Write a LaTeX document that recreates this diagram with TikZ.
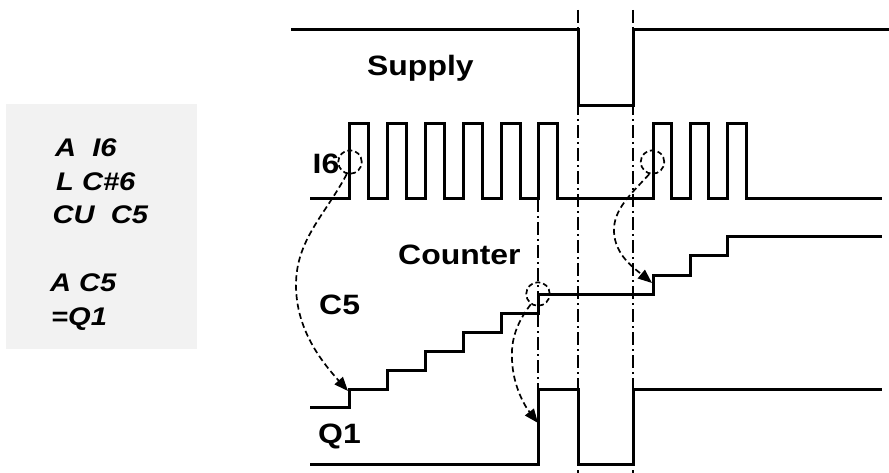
\documentclass[tikz,border=0pt]{standalone}
\usepackage{fontspec}
\setmainfont{Liberation Sans}
\newfontfamily\labfont[FakeStretch=1.14]{Liberation Sans}
\usetikzlibrary{arrows.meta}
\definecolor{boxgray}{HTML}{F2F2F2}
\begin{document}
\begin{tikzpicture}[x=1pt,y=-1pt,
  sig/.style={line width=3pt, line join=miter, line cap=rect},
  dashdot/.style={line width=1.4pt, dash pattern=on 13pt off 4pt on 2pt off 4pt},
  ring/.style={draw, circle, dashed, dash pattern=on 5pt off 3pt, line width=1.7pt, minimum size=23.5pt, inner sep=0pt},
  curvearrow/.style={line width=1.7pt, dash pattern=on 6pt off 3.5pt, -{Triangle[length=14pt,width=11pt]}},
  lab/.style={anchor=base west, inner sep=0pt, font=\labfont\fontsize{28}{28}\selectfont\bfseries},
  code/.style={anchor=base west, inner sep=0pt, font=\labfont\fontsize{25.5}{25.5}\selectfont\bfseries\itshape}
]
\useasboundingbox (0,0) rectangle (889,473);
% code box
\fill[boxgray] (6,104) rectangle (197,349);
\node[code] (l1) at (55,156.7) {A\ \ I6};
\node[code] (l2) at (56,190.5) {L C\#6};
\node[code] (l3) at (52.5,224) {CU\ \ C5};
\node[code] (l4) at (50,291.7) {A C5};
\node[code] (l5) at (51,325) {=Q1};
% dash-dot markers
\draw[dashdot] (578,10) -- (578,473);
\draw[dashdot] (633,10) -- (633,473);
\draw[dashdot] (538,199) -- (538,389);
% Supply
\draw[sig] (292,30) -- (578,30) -- (578,106) -- (633,106) -- (633,30) -- (889,30);
% I6
\draw[sig] (311,199)
  -- (349,199) -- (349,124) -- (368,124) -- (368,199)
  -- (387,199) -- (387,124) -- (406,124) -- (406,199)
  -- (425,199) -- (425,124) -- (444,124) -- (444,199)
  -- (463,199) -- (463,124) -- (482,124) -- (482,199)
  -- (501,199) -- (501,124) -- (520,124) -- (520,199)
  -- (538,199) -- (538,124) -- (557,124) -- (557,199)
  -- (653,199) -- (653,124) -- (671,124) -- (671,199)
  -- (690,199) -- (690,124) -- (708,124) -- (708,199)
  -- (727,199) -- (727,124) -- (746,124) -- (746,199)
  -- (880,199);
% C5
\draw[sig] (311,407) -- (349,407) -- (349,389) -- (387,389) -- (387,370)
  -- (425,370) -- (425,351) -- (463,351) -- (463,332) -- (501,332) -- (501,313)
  -- (538,313) -- (538,294) -- (653,294) -- (653,275) -- (690,275) -- (690,256)
  -- (727,256) -- (727,237) -- (880,237);
% Q1
\draw[sig] (311,464) -- (538,464) -- (538,389) -- (578,389) -- (578,464)
  -- (633,464) -- (633,389) -- (880,389);
% labels
\node[lab] (supply) at (367,76) {Supply};
\node[lab] (i6) at (312.5,174) {I6};
\node[lab] (counter) at (398,265) {Counter};
\node[lab] (c5) at (319,314) {C5};
\node[lab] (q1) at (318,443.5) {Q1};
% rings
\node[ring] (r1) at (350,162) {};
\node[ring] (r2) at (538,294) {};
\node[ring] (r3) at (652.5,162) {};
\coordinate (t1) at (348,391);
\coordinate (t2) at (538,423);
\coordinate (t3) at (652,283);
% curved arrows
\draw[curvearrow] (r1.255) .. controls (325,215) and (296,240) .. (296,285)
  .. controls (296,330) and (322,362) .. (t1);
\draw[curvearrow] (r2.235) .. controls (515,325) and (511,342) .. (512,360)
  .. controls (513,385) and (524,405) .. (t2);
\draw[curvearrow] (r3.255) .. controls (630,195) and (613,210) .. (614,232)
  .. controls (615,255) and (634,268) .. (t3);
\end{tikzpicture}
\end{document}
